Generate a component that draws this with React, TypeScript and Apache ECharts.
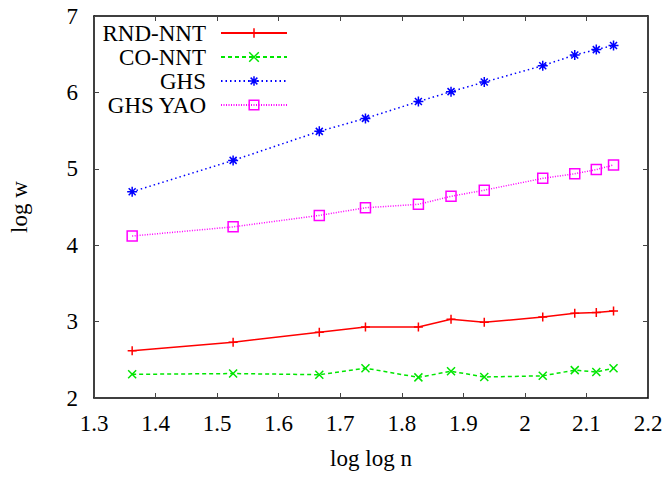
import React, { useEffect, useRef } from "react";
import * as echarts from "echarts";

const xValues = [1.362, 1.526, 1.666, 1.741, 1.827, 1.88, 1.934, 2.029, 2.081, 2.116, 2.144];
const rndNnt = [2.62, 2.73, 2.86, 2.93, 2.93, 3.03, 2.99, 3.06, 3.11, 3.12, 3.14];
const coNnt = [2.31, 2.32, 2.305, 2.39, 2.27, 2.35, 2.275, 2.29, 2.365, 2.34, 2.39];
const ghs = [4.7, 5.11, 5.49, 5.66, 5.88, 6.01, 6.135, 6.35, 6.49, 6.56, 6.615];
const ghsYao = [4.12, 4.24, 4.39, 4.49, 4.535, 4.64, 4.72, 4.875, 4.935, 4.99, 5.05];
const seriesNames = ["RND-NNT", "CO-NNT", "GHS", "GHS YAO"];

const FONT = "'Liberation Serif', 'Times New Roman', serif";
const FS = 23;

const pair = (ys: number[]) => xValues.map((x, i) => [x, ys[i]]);

export default function App() {
  const ref = useRef<HTMLDivElement>(null);
  useEffect(() => {
    document.body.style.margin = "0";
    const chart = echarts.init(ref.current!, undefined, { renderer: "svg" });
    const axisLine = { show: true, lineStyle: { color: "#000", width: 1.5 } };
    const tick = { show: true, inside: true, length: 5, lineStyle: { color: "#444", width: 1 } };
    const mk = (
      name: string,
      data: number[],
      color: string,
      symbol: string,
      size: number,
      type: any
    ) => ({
      name,
      type: "line",
      data: pair(data),
      symbol,
      symbolSize: size,
      showSymbol: true,
      color,
      lineStyle: { color, width: 1.5, type },
      itemStyle: { color: "rgba(0,0,0,0)", borderColor: color, borderWidth: 1.5 },
      emphasis: { disabled: true },
      z: 3,
    });
    chart.setOption({
      animation: false,
      grid: { left: 93, right: 23, top: 16, bottom: 80, containLabel: false },
      legend: {
        orient: "vertical",
        align: "right",
        right: 383,
        top: 21,
        padding: 0,
        itemGap: 0,
        itemWidth: 66,
        itemHeight: 12,
        data: seriesNames,
        itemStyle: { borderWidth: 1.5 },
        textStyle: {
          fontFamily: FONT,
          fontSize: FS,
          color: "#000",
          lineHeight: 24,
          padding: [0, 10, 0, 0],
        },
      },
      xAxis: [
        {
          type: "value",
          min: 1.3,
          max: 2.2,
          interval: 0.1,
          position: "bottom",
          name: "log log n",
          nameLocation: "middle",
          nameGap: 49,
          nameTextStyle: { fontFamily: FONT, fontSize: FS, color: "#000" },
          axisLine,
          axisTick: tick,
          splitLine: { show: false },
          axisLabel: { fontFamily: FONT, fontSize: FS, color: "#000", margin: 14 },
        },
        {
          type: "value",
          min: 1.3,
          max: 2.2,
          interval: 0.1,
          position: "top",
          axisLine,
          axisTick: tick,
          splitLine: { show: false },
          axisLabel: { show: false },
        },
      ],
      yAxis: [
        {
          type: "value",
          min: 2,
          max: 7,
          interval: 1,
          position: "left",
          name: "log w",
          nameLocation: "middle",
          nameGap: 63,
          nameTextStyle: { fontFamily: FONT, fontSize: FS, color: "#000" },
          axisLine,
          axisTick: tick,
          splitLine: { show: false },
          axisLabel: { fontFamily: FONT, fontSize: FS, color: "#000", margin: 16 },
        },
        {
          type: "value",
          min: 2,
          max: 7,
          interval: 1,
          position: "right",
          axisLine,
          axisTick: tick,
          splitLine: { show: false },
          axisLabel: { show: false },
        },
      ],
      series: [
        mk(seriesNames[0], rndNnt, "#ff0000", "path://M0,5 L10,5 M5,0 L5,10", 9, "solid"),
        mk(seriesNames[1], coNnt, "#00e600", "path://M0,0 L10,10 M10,0 L0,10", 8, [4, 3]),
        mk(
          seriesNames[2],
          ghs,
          "#0000ff",
          "path://M0,5 L10,5 M5,0 L5,10 M1.5,1.5 L8.5,8.5 M8.5,1.5 L1.5,8.5",
          10,
          [1.5, 3]
        ),
        mk(seriesNames[3], ghsYao, "#ff00ff", "path://M0,0 L10,0 L10,10 L0,10 Z", 10, [1, 1.5]),
      ],
    });
    return () => chart.dispose();
  }, []);
  return <div ref={ref} style={{ width: 671, height: 478 }} />;
}
